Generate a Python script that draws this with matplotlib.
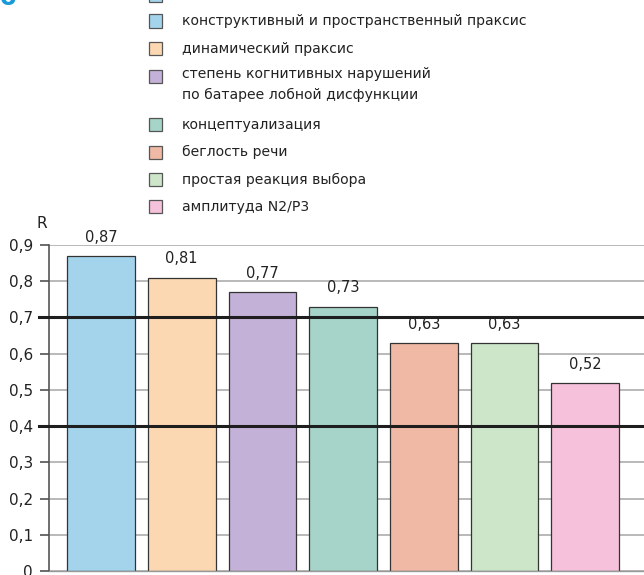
import matplotlib

matplotlib.use("Agg")
import matplotlib.pyplot as plt
from matplotlib.patches import Rectangle
from matplotlib.ticker import FuncFormatter

# Данные диаграммы (коэффициенты корреляции R)
CATEGORIES = [
    "конструктивный и пространственный праксис",
    "динамический праксис",
    "степень когнитивных нарушений\nпо батарее лобной дисфункции",
    "концептуализация",
    "беглость речи",
    "простая реакция выбора",
    "амплитуда N2/P3",
]
VALUES = [0.87, 0.81, 0.77, 0.73, 0.63, 0.63, 0.52]
VALUE_LABELS = ["0,87", "0,81", "0,77", "0,73", "0,63", "0,63", "0,52"]
Y_TICKS = [0, 0.1, 0.2, 0.3, 0.4, 0.5, 0.6, 0.7, 0.8, 0.9]
THRESHOLDS = [0.4, 0.7]

COLORS = ["#a3d4ec", "#fcd8b2", "#c4b1d7", "#a6d4c8", "#f0b9a5", "#cde6ca", "#f6c1da"]

W, H = 644, 575
FONT = "DejaVu Sans"

plt.rcParams["font.family"] = FONT


def px_x(x):
    return x / W


def px_y(y):
    return 1 - y / H


fig = plt.figure(figsize=(W / 100, H / 100), dpi=100)

# Оси: левый край 49 px, ноль на 571 px, 0.9 на 245 px
ax = fig.add_axes([px_x(49), px_y(571), 1 - px_x(49), (571 - 245) / H])

x = list(range(len(VALUES)))
bars = ax.bar(x, VALUES, width=0.84, color=COLORS, edgecolor="#333333",
              linewidth=0.9, zorder=2)

for xi, v, lab in zip(x, VALUES, VALUE_LABELS):
    ax.annotate(lab, (xi, v), xytext=(0, 8), textcoords="offset points",
                ha="center", va="bottom", fontsize=10.5, color="#222222")

ax.set_xlim(-0.645, 6.73)
ax.set_ylim(0, 0.9)
ax.set_yticks(Y_TICKS)
ax.yaxis.set_major_formatter(FuncFormatter(
    lambda v, _: "0" if v == 0 else f"{v:.1f}".replace(".", ",")))
ax.set_xticks([])
ax.tick_params(axis="y", length=6.5, width=1.1, color="#444444", pad=5,
               labelsize=11, labelcolor="#222222")

ax.yaxis.grid(True, color="#adadad", linewidth=1.2, zorder=0)
ax.set_axisbelow(True)

for side in ["top", "right"]:
    ax.spines[side].set_visible(False)
ax.spines["left"].set_color("#555555")
ax.spines["left"].set_linewidth(1.2)
ax.spines["bottom"].set_color("#999999")
ax.spines["bottom"].set_linewidth(1.0)

for t in THRESHOLDS:
    ax.axhline(t, xmin=-0.016, xmax=1, color="#1e1e1e", linewidth=2.2,
               zorder=3, clip_on=False)

fig.text(px_x(42), px_y(223), "R", ha="center", va="center", fontsize=11,
         color="#222222")

# Легенда вручную
y = 21
for label, color in zip(CATEGORIES, COLORS):
    fig.patches.append(Rectangle((px_x(149), px_y(y + 6.5)), 13 / W, 13 / H,
                                 transform=fig.transFigure, facecolor=color,
                                 edgecolor="#555555", linewidth=0.9))
    multi = "\n" in label
    fig.text(px_x(182), px_y(y - 9) if multi else px_y(y), label, ha="left",
             va="top" if multi else "center",
             fontsize=10.1, color="#222222", linespacing=1.6)
    y += 27.5 + 21 * label.count("\n")

# обрезанные фрагменты сверху
fig.patches.append(Rectangle((px_x(149), px_y(1.5)), 13 / W, 13 / H,
                             transform=fig.transFigure, facecolor="#a3d4ec",
                             edgecolor="#555555", linewidth=0.9))
fig.text(px_x(0), px_y(5), "б", ha="left", va="baseline", fontsize=17,
         fontweight="bold", color="#1a9ad6")

fig.savefig("out.png", dpi=100)
